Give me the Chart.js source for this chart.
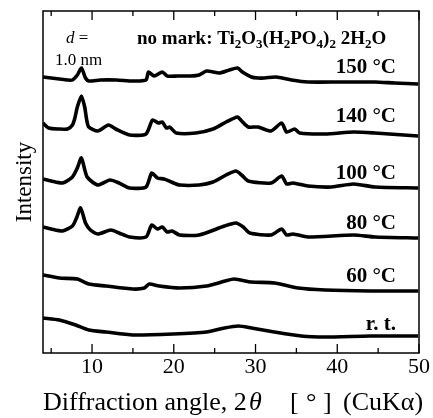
<!DOCTYPE html>
<html><head><meta charset="utf-8">
<script src="https://cdn.jsdelivr.net/npm/chart.js@4/dist/chart.umd.min.js"></script>
<style>html,body{margin:0;padding:0;background:#fff}#wrap{width:433px;height:418px}</style>
</head><body><div id="wrap"><canvas id="c"></canvas></div>
<script>
const x150=[4,5,6,7,7.6,8.2,8.7,9.2,9.6,11,13,15,16.6,16.9,17.6,18.6,19.2,20.5,22,23.1,24,25.6,26.8,27.8,28.4,29.5,30.3,31.1,32.5,34.4,36.4,40.5,44.6,47,49.9];
const y150=[276,275,274,273,273,278,285,275,272,273,273,272,273,281,277,281,277,277,277,278,282,280,283,285,281,276,275,275,276,273,271,271,271,270,269];
const x140=[4,4.7,6,7,7.6,7.9,8.2,8.7,9.1,9.35,9.6,10.7,12.0,12.9,14.6,16.6,17.4,18.1,18.6,19.1,19.5,20.3,22.7,24.8,26.4,27.8,28.3,29.1,30.3,31.9,33.2,33.8,34.8,35.4,38.5,42,44.6,49.9];
const y140=[230,225,224,224,228,235,246,257,246,233,226,222,228,224,218,219,233,230,231,225,226,220,220,224,231,236,232,226,226,222,230,221,224,220,219,221,220,217];
const x100=[4,5,6.4,7.6,8.2,8.7,9.4,10.7,12.2,13.3,14.6,16.6,17.3,18.0,18.8,19.7,20.7,23.1,24.8,26.4,27.6,28.3,29.1,31.9,33.2,33.8,34.6,36.4,39.3,42,44.6,49.9];
const y100=[174,172,170,176,185,195,176,168,173,170,165,166,180,175,174,171,168,168,171,178,182,178,172,170,177,169,170,167,166,169,166,165];
const x80=[4,5,6.4,7.6,8.1,8.6,9.2,9.8,10.7,12.3,13.3,14.6,16.6,17.3,18.0,18.6,19.2,19.8,20.7,23.1,26.2,27.6,28.5,29.3,31.9,33.2,33.8,34.6,36.4,42,44.6,49.9];
const y80=[126,124,122,127,135,145,130,123,119,123,120,116,116,128,124,126,121,122,118,118,127,130,126,120,118,124,118,119,116,118,116,115];
const x60=[4,6.0,8.2,9.6,11.7,15.0,16.4,17.0,18.2,20.7,24,26.3,27.4,29.5,32.3,35.2,38.5,44,49.9];
const y60=[78,75,74,69,67,64,65,69,67,65,67,72,74,71,70,65,63,62,62];
const xRT=[4,6.0,8.0,9.6,11.7,15.0,19.9,24,26.2,27.9,29.5,32.3,35.6,38.5,44,49.9];
const yRT=[35,33,28,23,21,18,19,21,25,27,25,21,17,16,17,17];
const seriesLabels=['150 °C','140 °C','100 °C','80 °C','60 °C','r. t.'];
const xTickLabels=[10,20,30,40,50];

function pts(xs,ys){return xs.map((v,i)=>({x:v,y:ys[i]}));}
const allX=[x150,x140,x100,x80,x60,xRT], allY=[y150,y140,y100,y80,y60,yRT];
const labelBase=[73,122,179,229,282,330];

const datasets=allX.map((xs,i)=>({label:seriesLabels[i],data:pts(xs,allY[i]),borderColor:'#000',borderWidth:3.6,pointRadius:0,tension:0.22,fill:false}));

const serif='"Liberation Serif","DejaVu Serif",serif';
function drawRuns(ctx,runs,x,y){
  runs.forEach(([t,f,dy])=>{ctx.font=f; ctx.fillText(t,x,y+(dy||0)); x+=ctx.measureText(t).width;});
  return x;
}
const deco={id:'deco',afterDatasetsDraw(chart){
  const ctx=chart.ctx, a=chart.chartArea, xs=chart.scales.x;
  ctx.save();
  ctx.strokeStyle='#000'; ctx.lineWidth=1.5;
  ctx.strokeRect(a.left,a.top,a.right-a.left,a.bottom-a.top);
  ctx.lineWidth=1.3;
  xs.ticks.forEach(t=>{const p=xs.getPixelForValue(t.value); const L=(t.value%10===0)?9:5;
    ctx.beginPath();ctx.moveTo(p,a.bottom);ctx.lineTo(p,a.bottom-L);ctx.moveTo(p,a.top);ctx.lineTo(p,a.top+L);ctx.stroke();});
  ctx.fillStyle='#000';
  ctx.textAlign='right'; ctx.textBaseline='alphabetic';
  ctx.font='bold 21px '+serif;
  seriesLabels.forEach((s,i)=>ctx.fillText(s,396,labelBase[i]));
  ctx.textAlign='left';
  const B='bold 19px '+serif, S='bold 13px '+serif;
  drawRuns(ctx,[['no mark: Ti',B],['2',S,4],['O',B],['3',S,4],['(H',B],['2',S,4],['PO',B],['4',S,4],[')',B],['2',S,4],[' 2H',B],['2',S,4],['O',B]],137,44);
  drawRuns(ctx,[['d',"italic 17px "+serif],[' =','17px '+serif]],66,43);
  ctx.font='17px '+serif; ctx.fillText('1.0 nm',55,65);
  // x axis title
  const N='26px '+serif, I='italic 26px '+serif;
  drawRuns(ctx,[['Diffraction angle, 2',N]],43,410);
  ctx.font=I; ctx.fillText('θ',249,410);
  ctx.font=N;
  ctx.fillText('[',290,410); ctx.fillText('°',306,410); ctx.fillText(']',323,410); ctx.fillText('(CuKα)',343,410);
  // y axis title
  ctx.translate(25,182); ctx.rotate(-Math.PI/2);
  ctx.textAlign='center'; ctx.textBaseline='middle'; ctx.font='23px '+serif; ctx.fillText('Intensity',0,0);
  ctx.restore();
}};

new Chart(document.getElementById('c'),{
  type:'line',
  data:{datasets},
  options:{responsive:true,maintainAspectRatio:false,animation:false,
    layout:{padding:{top:11,right:14,left:0,bottom:0}},
    plugins:{legend:{display:false},tooltip:{enabled:false}},
    scales:{
      x:{type:'linear',min:4,max:50,grid:{display:false,drawTicks:false},border:{display:false},
        ticks:{stepSize:5,includeBounds:false,autoSkip:false,maxRotation:0,padding:1,color:'#000',font:{family:serif,size:22},
          callback:(v)=>xTickLabels.includes(v)?String(v):''},
        title:{display:false},
        afterFit(s){s.height=65;}},
      y:{min:0,max:342,grid:{display:false,drawTicks:false},border:{display:false},ticks:{display:false},
        title:{display:false},
        afterFit(s){s.width=43;}}
    }},
  plugins:[deco]
});
</script></body></html>
